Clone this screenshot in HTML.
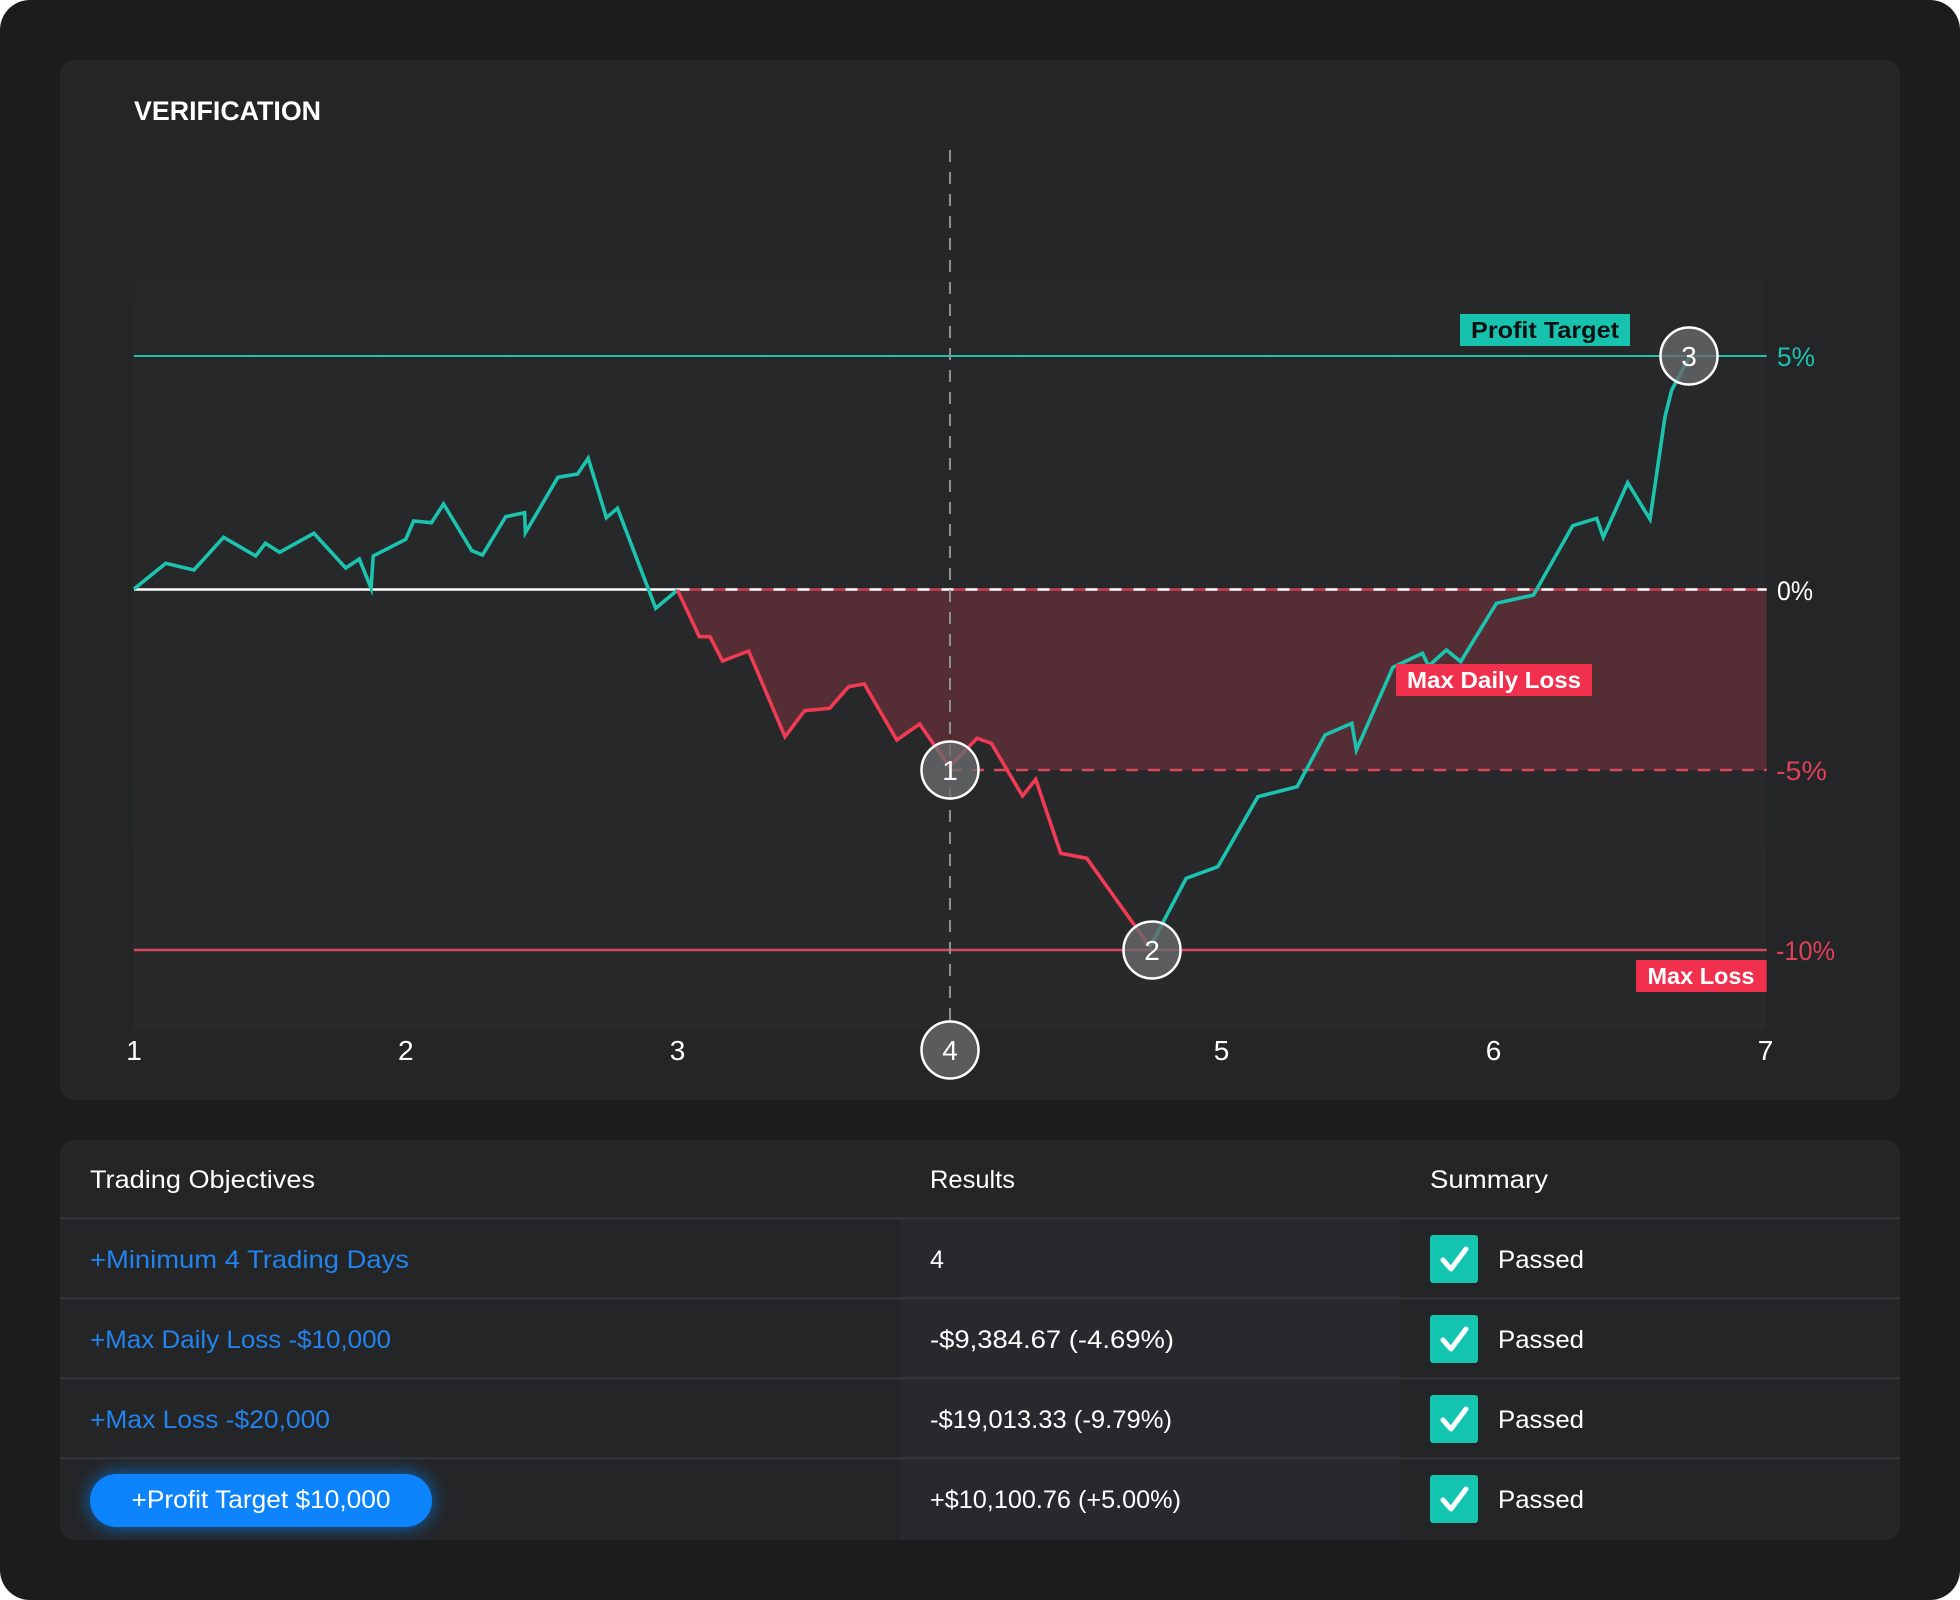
<!DOCTYPE html>
<html>
<head>
<meta charset="utf-8">
<style>
  html,body{margin:0;padding:0;background:#ffffff;}
  body{width:1960px;height:1600px;overflow:hidden;}
  svg{display:block;}
  text{font-family:"Liberation Sans", Arial, sans-serif;}
</style>
</head>
<body>
<svg width="1960" height="1600" viewBox="0 0 1960 1600" xmlns="http://www.w3.org/2000/svg">
  <defs>
    <filter id="glow" x="-30%" y="-80%" width="160%" height="260%">
      <feGaussianBlur stdDeviation="9"/>
    </filter>
    <linearGradient id="plotbg" x1="0" y1="0" x2="0" y2="1">
      <stop offset="0" stop-color="#262729"/>
      <stop offset="1" stop-color="#28292b"/>
    </linearGradient>
  </defs>

  <!-- outer frame -->
  <rect x="0" y="0" width="1960" height="1600" rx="30" ry="30" fill="#1c1c1d"/>

  <!-- chart card -->
  <rect x="60" y="60" width="1840" height="1040" rx="14" fill="#242527"/>
  <text x="134" y="120" font-size="27" font-weight="bold" fill="#ffffff" textLength="187" lengthAdjust="spacingAndGlyphs">VERIFICATION</text>

  <!-- plot area -->
  <rect x="134" y="150" width="1632" height="880" fill="url(#plotbg)"/>

  <!-- daily loss band fill -->
  <polygon fill="#552d34" points="677.5,590 1766.7,590 1766.7,770 1007.2,770 991.4,743.3 977.1,738.3 949.3,766.7 919.6,724 896.8,740 864.3,684 848.6,686.7 829.6,708.3 804.6,710.7 785,736.7 748.6,651 722.5,661 710,636.7 699.3,636.7"/>

  <!-- 5% profit target line -->
  <line x1="134" y1="356" x2="1766.7" y2="356" stroke="#22bfae" stroke-width="2"/>
  <!-- -10% max loss line -->
  <line x1="134" y1="950" x2="1766.7" y2="950" stroke="#d44a5c" stroke-width="2.5"/>
  <!-- 0% line -->
  <line x1="134" y1="589.5" x2="677.5" y2="589.5" stroke="#ffffff" stroke-width="2.5"/>
  <line x1="677.5" y1="589.5" x2="1766.7" y2="589.5" stroke="#c9404f" stroke-width="2.5"/>
  <line x1="677.5" y1="589.5" x2="1766.7" y2="589.5" stroke="#ffffff" stroke-width="2.5" stroke-dasharray="12 12"/>
  <!-- -5% line -->
  <line x1="950" y1="770" x2="1766.7" y2="770" stroke="#d9475b" stroke-width="2.5" stroke-dasharray="12 10"/>

  <!-- vertical dashed marker -->
  <line x1="950" y1="150" x2="950" y2="1021" stroke="#8e8f91" stroke-width="2" stroke-dasharray="12 10"/>

  <!-- series -->
  <polyline fill="none" stroke="#1cc3ae" stroke-width="3.6" stroke-linejoin="miter" stroke-miterlimit="6"
    points="134,589 165.7,563.3 193.9,570 223.6,537.3 255.7,556 265.4,543.3 279.6,552.3 313.9,533.3 345.7,568 359.3,559 371.1,588.3 373.2,556 405.7,539.3 413.6,521 431.4,522.7 443.6,504 471.8,550.7 482.5,555 505.7,516.7 524.6,512.7 525.4,532.7 557.9,477.3 577.5,474 588.2,458.3 606.4,517.7 617.5,508.3 655.7,608.3 677.5,590"/>
  <polyline fill="none" stroke="#ef3b54" stroke-width="3.6" stroke-linejoin="miter" stroke-miterlimit="6"
    points="677.5,590 699.3,636.7 710,636.7 722.5,661 748.6,651 785,736.7 804.6,710.7 829.6,708.3 848.6,686.7 864.3,684 896.8,740 919.6,724 949.3,766.7 977.1,738.3 991.4,743.3 1022.5,796 1035.7,779.3 1060.7,853.3 1086.8,858.3 1150,947"/>
  <polyline fill="none" stroke="#1cc3ae" stroke-width="3.6" stroke-linejoin="miter" stroke-miterlimit="6"
    points="1150,947 1186.2,878.3 1217.9,866.7 1257.9,796.7 1297.1,786.7 1325,735 1351.8,723.3 1356.4,750 1392.9,667.3 1422.5,653.3 1428.6,666 1446.4,650 1460.7,661.7 1496.4,603.3 1533.5,595 1572.7,525.7 1596.7,518.3 1603.3,537.3 1627.7,482.7 1650,519.3 1665,416.7 1671.7,390 1689,358"/>

  <!-- labels on chart -->
  <rect x="1460" y="314" width="170" height="32" fill="#17c3ae"/>
  <text x="1545" y="338" font-size="23" font-weight="bold" fill="#111111" text-anchor="middle" textLength="148" lengthAdjust="spacingAndGlyphs">Profit Target</text>

  <rect x="1396" y="664" width="196" height="32" fill="#f0304c"/>
  <text x="1494" y="688" font-size="23" font-weight="bold" fill="#ffffff" text-anchor="middle" textLength="174" lengthAdjust="spacingAndGlyphs">Max Daily Loss</text>

  <rect x="1636" y="960" width="130.7" height="32" fill="#f0304c"/>
  <text x="1701" y="984" font-size="23" font-weight="bold" fill="#ffffff" text-anchor="middle" textLength="107" lengthAdjust="spacingAndGlyphs">Max Loss</text>

  <!-- y labels -->
  <text x="1777" y="366" font-size="27" fill="#1fc0ae" textLength="38" lengthAdjust="spacingAndGlyphs">5%</text>
  <text x="1777" y="600" font-size="27" fill="#ffffff" textLength="36" lengthAdjust="spacingAndGlyphs">0%</text>
  <text x="1776" y="780" font-size="27" fill="#e0405a" textLength="51" lengthAdjust="spacingAndGlyphs">-5%</text>
  <text x="1776" y="960" font-size="27" fill="#e0405a" textLength="59" lengthAdjust="spacingAndGlyphs">-10%</text>

  <!-- markers -->
  <g stroke="#ffffff" stroke-width="2.5" fill="rgba(105,106,108,0.78)">
    <circle cx="950" cy="770" r="28.5"/>
    <circle cx="1152" cy="950" r="28.5"/>
    <circle cx="1689" cy="356" r="28.5"/>
    <circle cx="950" cy="1050" r="28.5" fill="#5a5b5d"/>
  </g>
  <g font-size="28" fill="#ffffff" text-anchor="middle">
    <text x="950" y="780">1</text>
    <text x="1152" y="960">2</text>
    <text x="1689" y="366">3</text>
    <text x="950" y="1060">4</text>
  </g>

  <!-- x tick labels -->
  <g font-size="28" fill="#ffffff" text-anchor="middle">
    <text x="134" y="1060">1</text>
    <text x="405.8" y="1060">2</text>
    <text x="677.5" y="1060">3</text>
    <text x="1221.5" y="1060">5</text>
    <text x="1493.5" y="1060">6</text>
    <text x="1765.5" y="1060">7</text>
  </g>

  <!-- table card -->
  <rect x="60" y="1140" width="1840" height="400" rx="14" fill="#242527"/>
  <rect x="900" y="1219" width="500" height="321" fill="#28292c"/>
  <g fill="#323336">
    <rect x="60" y="1217" width="1840" height="2.5"/>
    <rect x="60" y="1297" width="1840" height="2.5"/>
    <rect x="60" y="1377" width="1840" height="2.5"/>
    <rect x="60" y="1457" width="1840" height="2.5"/>
  </g>

  <!-- header -->
  <g font-size="25" fill="#ffffff">
    <text x="90" y="1188" textLength="225" lengthAdjust="spacingAndGlyphs">Trading Objectives</text>
    <text x="930" y="1188" textLength="85" lengthAdjust="spacingAndGlyphs">Results</text>
    <text x="1430" y="1188" textLength="118" lengthAdjust="spacingAndGlyphs">Summary</text>
  </g>

  <!-- objectives -->
  <g font-size="25" fill="#2383ee">
    <text x="90" y="1268" textLength="319" lengthAdjust="spacingAndGlyphs">+Minimum 4 Trading Days</text>
    <text x="90" y="1348" textLength="301" lengthAdjust="spacingAndGlyphs">+Max Daily Loss -$10,000</text>
    <text x="90" y="1428" textLength="240" lengthAdjust="spacingAndGlyphs">+Max Loss -$20,000</text>
  </g>

  <!-- button -->
  <rect x="90" y="1474" width="342" height="53" rx="26.5" fill="#0a84ff" opacity="0.75" filter="url(#glow)"/>
  <rect x="90" y="1474" width="342" height="53" rx="26.5" fill="#0d84fb"/>
  <text x="261" y="1508" font-size="25" fill="#ffffff" text-anchor="middle" textLength="259" lengthAdjust="spacingAndGlyphs">+Profit Target $10,000</text>

  <!-- results -->
  <g font-size="25" fill="#ffffff">
    <text x="930" y="1268">4</text>
    <text x="930" y="1348" textLength="244" lengthAdjust="spacingAndGlyphs">-$9,384.67 (-4.69%)</text>
    <text x="930" y="1428" textLength="242" lengthAdjust="spacingAndGlyphs">-$19,013.33 (-9.79%)</text>
    <text x="930" y="1508" textLength="251" lengthAdjust="spacingAndGlyphs">+$10,100.76 (+5.00%)</text>
  </g>

  <!-- summary -->
  <g fill="#14c6b2">
    <rect x="1430" y="1235" width="48" height="48" rx="3"/>
    <rect x="1430" y="1315" width="48" height="48" rx="3"/>
    <rect x="1430" y="1395" width="48" height="48" rx="3"/>
    <rect x="1430" y="1475" width="48" height="48" rx="3"/>
  </g>
  <g fill="none" stroke="#ffffff" stroke-width="5" stroke-linecap="round" stroke-linejoin="round">
    <polyline points="1443,1260 1451,1269 1466,1249"/>
    <polyline points="1443,1340 1451,1349 1466,1329"/>
    <polyline points="1443,1420 1451,1429 1466,1409"/>
    <polyline points="1443,1500 1451,1509 1466,1489"/>
  </g>
  <g font-size="25" fill="#ffffff">
    <text x="1498" y="1268" textLength="86" lengthAdjust="spacingAndGlyphs">Passed</text>
    <text x="1498" y="1348" textLength="86" lengthAdjust="spacingAndGlyphs">Passed</text>
    <text x="1498" y="1428" textLength="86" lengthAdjust="spacingAndGlyphs">Passed</text>
    <text x="1498" y="1508" textLength="86" lengthAdjust="spacingAndGlyphs">Passed</text>
  </g>
</svg>
</body>
</html>
